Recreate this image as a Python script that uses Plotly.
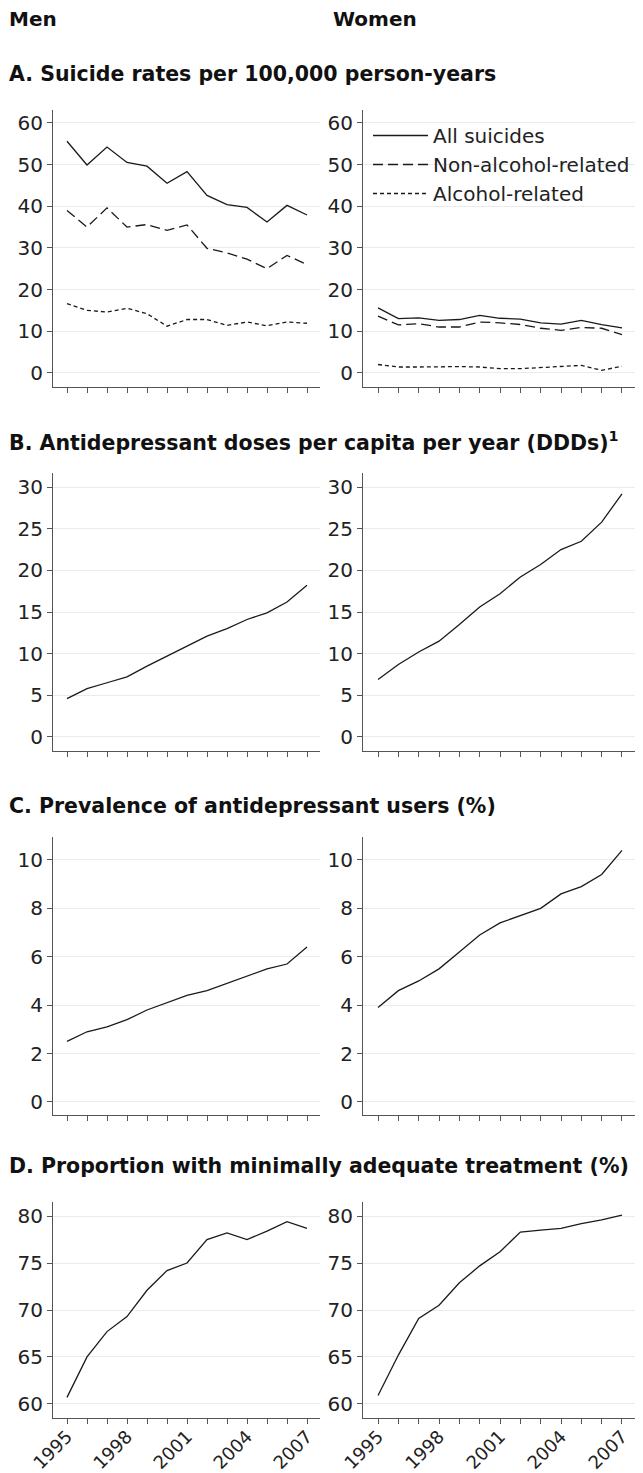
import plotly.graph_objects as go

years = list(range(1995, 2008))
label_years = [1995, 1998, 2001, 2004, 2007]
label_text = ["1995", "1998", "2001", "2004", "2007"]

# A. Suicide rates per 100,000 person-years
men_all = [55.6, 49.9, 54.2, 50.5, 49.6, 45.5, 48.3, 42.6, 40.4, 39.7, 36.2, 40.2, 37.9]
men_nonalc = [39.0, 35.0, 39.6, 35.0, 35.6, 34.2, 35.5, 29.9, 28.8, 27.3, 25.0, 28.2, 26.0]
men_alc = [16.6, 15.0, 14.6, 15.5, 14.2, 11.2, 12.8, 12.8, 11.4, 12.2, 11.3, 12.2, 11.9]
women_all = [15.6, 13.0, 13.2, 12.6, 12.8, 13.8, 13.1, 12.9, 12.0, 11.7, 12.6, 11.6, 10.8]
women_nonalc = [13.6, 11.5, 11.8, 11.0, 11.0, 12.2, 12.0, 11.6, 10.7, 10.2, 10.9, 10.7, 9.2]
women_alc = [2.0, 1.4, 1.4, 1.5, 1.5, 1.4, 1.0, 1.0, 1.3, 1.5, 1.8, 0.6, 1.6]

# B. Antidepressant doses per capita per year (DDDs)
men_ddd = [4.6, 5.8, 6.5, 7.2, 8.5, 9.7, 10.9, 12.1, 13.0, 14.1, 14.9, 16.2, 18.2]
women_ddd = [6.9, 8.7, 10.2, 11.5, 13.5, 15.6, 17.2, 19.2, 20.7, 22.5, 23.5, 25.8, 29.2]

# C. Prevalence of antidepressant users (%)
men_prev = [2.5, 2.9, 3.1, 3.4, 3.8, 4.1, 4.4, 4.6, 4.9, 5.2, 5.5, 5.7, 6.4]
women_prev = [3.9, 4.6, 5.0, 5.5, 6.2, 6.9, 7.4, 7.7, 8.0, 8.6, 8.9, 9.4, 10.4]

# D. Proportion with minimally adequate treatment (%)
men_adeq = [60.7, 65.0, 67.7, 69.3, 72.1, 74.2, 75.0, 77.5, 78.2, 77.5, 78.4, 79.4, 78.7]
women_adeq = [60.9, 65.2, 69.1, 70.5, 72.9, 74.7, 76.2, 78.3, 78.5, 78.7, 79.2, 79.6, 80.1]

panel_titles = [
    "A. Suicide rates per 100,000 person-years",
    "B. Antidepressant doses per capita per year (DDDs)<sup>1</sup>",
    "C. Prevalence of antidepressant users (%)",
    "D. Proportion with minimally adequate treatment (%)",
]
col_titles = ["Men", "Women"]
legend_names = ["All suicides", "Non-alcohol-related", "Alcohol-related"]

# The page body adds an 8px margin; size the figure so it fills the 643x1473 window.
OFF = 8
W, H = 643 - OFF, 1473 - OFF
FONT = "DejaVu Sans, Verdana, sans-serif"
LINE = "#1a1a1a"


def fx(p):
    return (p - OFF) / W


def fy(p):
    return 1 - (p - OFF) / H


cols_px = [(53, 320), (363, 635)]
rows_px = [(110, 387), (473, 751), (837, 1115), (1202, 1418)]
xranges = [[1994.3, 2007.65], [1994.26, 2007.64]]
yranges = [[-3.4, 63.1], [-1.7, 31.7], [-0.54, 10.95], [58.5, 81.5]]
ytickvals = [list(range(0, 61, 10)), list(range(0, 31, 5)), list(range(0, 11, 2)), list(range(60, 81, 5))]

fig = go.Figure()
layout = {}

dashes = ["solid", "10px,5px", "4px,3px"]

for r in range(4):
    for c in range(2):
        idx = r * 2 + c + 1
        xname = "xaxis" if idx == 1 else f"xaxis{idx}"
        yname = "yaxis" if idx == 1 else f"yaxis{idx}"
        xref = "x" if idx == 1 else f"x{idx}"
        yref = "y" if idx == 1 else f"y{idx}"
        layout[xname] = dict(
            domain=[fx(cols_px[c][0]), min(1.0, fx(cols_px[c][1]))],
            anchor=yref,
            range=xranges[c],
            automargin=False,
            tickmode="array",
            tickvals=label_years,
            ticktext=label_text,
            showticklabels=(r == 3),
            tickangle=-45,
            ticklabelstandoff=-5,
            ticks="outside",
            ticklen=5,
            tickcolor="#555",
            minor=dict(tickmode="array", tickvals=years, ticks="outside", ticklen=5,
                       tickcolor="#555", showgrid=False),
            showline=True,
            linecolor="#555",
            linewidth=1,
            showgrid=False,
            zeroline=False,
            tickfont=dict(family=FONT, size=18, color="#222"),
        )
        layout[yname] = dict(
            domain=[fy(rows_px[r][1]), fy(rows_px[r][0])],
            anchor=xref,
            range=yranges[r],
            automargin=False,
            tickmode="array",
            tickvals=ytickvals[r],
            ticks="outside",
            ticklen=5,
            tickcolor="#555",
            showline=True,
            linecolor="#555",
            linewidth=1,
            showgrid=True,
            gridcolor="#ebebeb",
            gridwidth=1,
            zeroline=False,
            tickfont=dict(family=FONT, size=20, color="#222"),
        )

        if r == 0:
            series = [men_all, men_nonalc, men_alc] if c == 0 else [women_all, women_nonalc, women_alc]
            for s, name, d in zip(series, legend_names, dashes):
                fig.add_trace(go.Scatter(
                    x=years, y=s, mode="lines", name=name,
                    line=dict(color=LINE, width=1.3, dash=d),
                    showlegend=(c == 1), xaxis=xref, yaxis=yref,
                ))
        else:
            data = {1: (men_ddd, women_ddd), 2: (men_prev, women_prev), 3: (men_adeq, women_adeq)}[r]
            fig.add_trace(go.Scatter(
                x=years, y=data[c], mode="lines",
                line=dict(color=LINE, width=1.3),
                showlegend=False, xaxis=xref, yaxis=yref,
            ))

annotations = []
annotations.append(dict(text="<b>" + col_titles[0] + "</b>", x=0, y=fy(19), xref="paper", yref="paper",
                        xanchor="left", yanchor="middle", showarrow=False, borderpad=0,
                        font=dict(family=FONT, size=20, color="#111")))
annotations.append(dict(text="<b>" + col_titles[1] + "</b>", x=fx(332), y=fy(19), xref="paper", yref="paper",
                        xanchor="left", yanchor="middle", showarrow=False, borderpad=0,
                        font=dict(family=FONT, size=20, color="#111")))
title_centers = [74, 441, 806, 1166]
for t, yc in zip(panel_titles, title_centers):
    annotations.append(dict(text="<b>" + t + "</b>", x=0, y=fy(yc), xref="paper", yref="paper",
                            xanchor="left", yanchor="middle", showarrow=False, borderpad=0,
                            font=dict(family=FONT, size=20.5, color="#111")))

fig.update_layout(
    **layout,
    width=W, height=H,
    margin=dict(l=0, r=0, t=0, b=0, autoexpand=False),
    paper_bgcolor="white", plot_bgcolor="white",
    annotations=annotations,
    legend=dict(x=fx(368), y=fy(116), xanchor="left", yanchor="top",
                font=dict(family=FONT, size=20, color="#222"),
                bgcolor="rgba(0,0,0,0)", tracegroupgap=0, itemwidth=55),
)

fig.write_html("out.html")
